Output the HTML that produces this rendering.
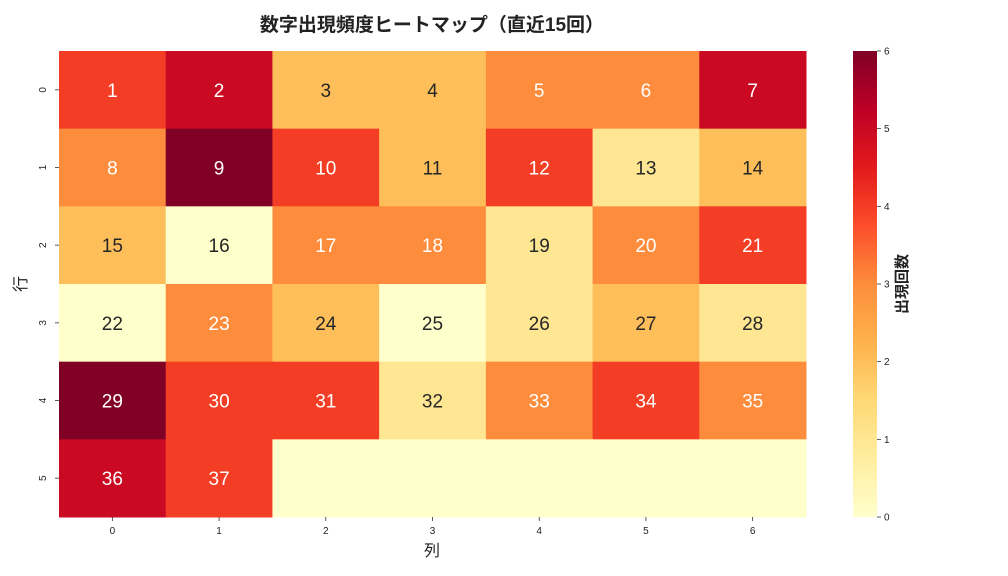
<!DOCTYPE html>
<html><head><meta charset="utf-8">
<style>
html,body{margin:0;padding:0;background:#fff;}
svg{display:block;font-family:"Liberation Sans","Noto Sans CJK JP",sans-serif;}
</style></head>
<body>
<svg id="chart" width="1008" height="576" viewBox="0 0 1008 576" xmlns="http://www.w3.org/2000/svg">
<defs>
<linearGradient id="cbgrad" x1="0" y1="1" x2="0" y2="0">
<stop offset="0" stop-color="#ffffcc"/><stop offset="0.125" stop-color="#ffeda0"/>
<stop offset="0.25" stop-color="#fed976"/><stop offset="0.375" stop-color="#feb24c"/>
<stop offset="0.5" stop-color="#fd8d3c"/><stop offset="0.625" stop-color="#fc4e2a"/>
<stop offset="0.75" stop-color="#e31a1c"/><stop offset="0.875" stop-color="#bd0026"/>
<stop offset="1" stop-color="#800026"/>
</linearGradient>
</defs>
<text x="432" y="31" text-anchor="middle" font-size="19" font-weight="bold" fill="#222">数字出現頻度ヒートマップ（直近15回）</text>
<g id="cells"></g>
<g id="xticks"></g>
<g id="yticks"></g>
<text x="432" y="556" text-anchor="middle" font-size="16" fill="#222">列</text>
<text x="26" y="284" text-anchor="middle" font-size="16" fill="#222" transform="rotate(-90 26 284)">行</text>
<rect x="853" y="51" width="24" height="466" fill="url(#cbgrad)"/>
<g id="cbticks"></g>
<text x="907" y="284" text-anchor="middle" font-size="15" font-weight="bold" fill="#222" transform="rotate(-90 907 284)">出現回数</text>
</svg>
<script>
const rowLabels = ["0","1","2","3","4","5"];
const colLabels = ["0","1","2","3","4","5","6"];
const counts = [
 [4,5,2,2,3,3,5],
 [3,6,4,2,4,1,2],
 [2,0,3,3,1,3,4],
 [0,3,2,0,1,2,1],
 [6,4,4,1,3,4,3],
 [5,4,0,0,0,0,0]
];
const numbers = [
 [1,2,3,4,5,6,7],
 [8,9,10,11,12,13,14],
 [15,16,17,18,19,20,21],
 [22,23,24,25,26,27,28],
 [29,30,31,32,33,34,35],
 [36,37,null,null,null,null,null]
];
const cbTicks = [0,1,2,3,4,5,6];
const vmin=0, vmax=6;
const X0=59,X1=806,Y0=51,Y1=517;
const cw=(X1-X0)/colLabels.length, ch=(Y1-Y0)/rowLabels.length;
const xs=c=>X0+c*cw, ys=r=>Y0+r*ch;
const stops=["#ffffcc","#ffeda0","#fed976","#feb24c","#fd8d3c","#fc4e2a","#e31a1c","#bd0026","#800026"];
function hex(h){return [1,3,5].map(i=>parseInt(h.substr(i,2),16));}
function cmap(v){let t=(v-vmin)/(vmax-vmin)*(stops.length-1);let i=Math.min(Math.floor(t),stops.length-2);let f=t-i;
 const a=hex(stops[i]),b=hex(stops[i+1]);return "rgb("+a.map((x,k)=>Math.round(x+(b[k]-x)*f)).join(",")+")";}
const NS="http://www.w3.org/2000/svg";
function mk(tag,attrs,parent){const e=document.createElementNS(NS,tag);for(const k in attrs)e.setAttribute(k,attrs[k]);parent.appendChild(e);return e;}
const cells=document.getElementById("cells");
counts.forEach((row,r)=>row.forEach((v,c)=>{
 const rc=mk("rect",{x:xs(c),y:ys(r),width:cw+0.5,height:ch+0.5,fill:cmap(v)},cells);
 
 
 const n=numbers[r][c];
 if(n!==null){
  const t=mk("text",{x:xs(c)+cw/2,y:ys(r)+ch/2+7,"text-anchor":"middle","font-size":"19",fill:v>=3?"#fff":"#262626"},cells);
  
  
  t.textContent=n;
 }
}));
const xt=document.getElementById("xticks");
colLabels.forEach((l,c)=>{
 const x=xs(c)+cw/2;
 const ln=mk("line",{x1:x,x2:x,y1:Y1,y2:Y1+4,stroke:"#333","stroke-width":"0.8"},xt);
 
 
 const t=mk("text",{x:x,y:Y1+17,"text-anchor":"middle","font-size":"10",fill:"#222"},xt);
 
 
 t.textContent=l;
});
const yt=document.getElementById("yticks");
rowLabels.forEach((l,r)=>{
 const y=ys(r)+ch/2;
 const ln=mk("line",{x1:X0-4,x2:X0,y1:y,y2:y,stroke:"#333","stroke-width":"0.8"},yt);
 
 
 const t=mk("text",{x:46,y:y,"text-anchor":"middle","font-size":"10",fill:"#222",transform:"rotate(-90 46 "+y+")"},yt);
 
 
 t.textContent=l;
});
const cb=document.getElementById("cbticks");
cbTicks.forEach(v=>{
 const y=Y1-(v-vmin)/(vmax-vmin)*(Y1-Y0);
 const ln=mk("line",{x1:877,x2:881,y1:y,y2:y,stroke:"#333","stroke-width":"0.8"},cb);
 
 
 const t=mk("text",{x:884,y:y+3.5,"font-size":"10",fill:"#222"},cb);
 
 
 t.textContent=v;
});
</script>
</body></html>
